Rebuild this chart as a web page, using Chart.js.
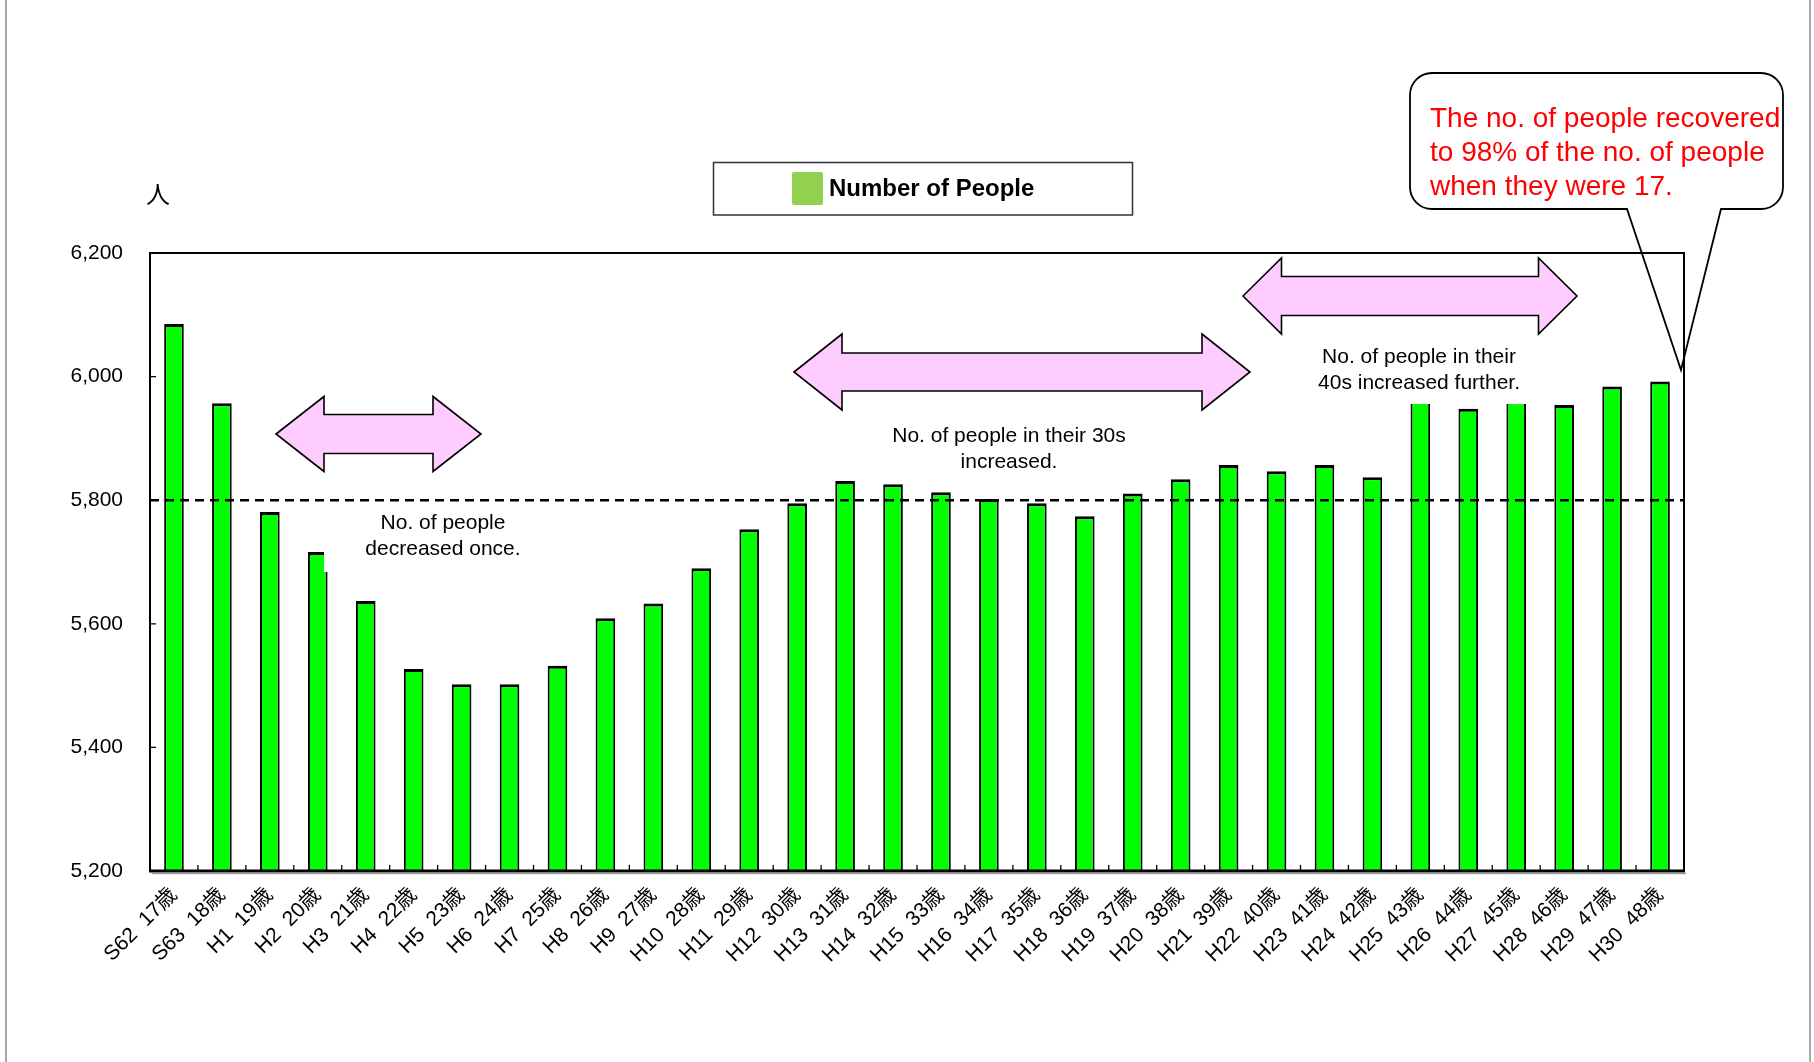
<!DOCTYPE html>
<html>
<head>
<meta charset="utf-8">
<title>Number of People</title>
<script src="https://cdn.jsdelivr.net/npm/chart.js@4.4.1/dist/chart.umd.min.js"></script>
<style>
  html, body { margin: 0; padding: 0; background: #fff; }
  #wrap { position: relative; width: 1814px; height: 1062px; }
  canvas { display: block; }
</style>
</head>
<body>
<div id="wrap"><canvas id="chart" width="1814" height="1062"></canvas></div>
<script>
// Survey year (era notation) and the cohort's age in that year
const eras = ['S62', 'S63', 'H1', 'H2', 'H3', 'H4', 'H5', 'H6', 'H7', 'H8', 'H9', 'H10',
  'H11', 'H12', 'H13', 'H14', 'H15', 'H16', 'H17', 'H18', 'H19', 'H20', 'H21', 'H22',
  'H23', 'H24', 'H25', 'H26', 'H27', 'H28', 'H29', 'H30'];
const ages = [17, 18, 19, 20, 21, 22, 23, 24, 25, 26, 27, 28, 29, 30, 31, 32,
  33, 34, 35, 36, 37, 38, 39, 40, 41, 42, 43, 44, 45, 46, 47, 48];

// Number of people in the cohort
const people = [6085, 5957, 5781, 5716, 5637, 5527, 5502, 5502, 5532, 5609, 5633, 5690,
  5753, 5795, 5831, 5826, 5813, 5802, 5795, 5774, 5811, 5834, 5857, 5847,
  5857, 5837, 5966, 5948, 5960, 5954, 5984, 5992];

// Value axis
const yMin = 5200;
const yMax = 6200;
const yStep = 200;
const referenceLevel = 5800;

const seriesName = 'Number of People';
const unitLabel = '人';
const calloutLines = ['The no. of people recovered', 'to 98% of the no. of people', 'when they were 17.'];

const categoryLabels = eras.map((e, i) => e + '  ' + ages[i] + '歳');

const LATIN = '"Liberation Sans", Arial, Helvetica, sans-serif';
const CJK = '"Liberation Sans", Arial, "Noto Sans CJK JP", sans-serif';

// Annotation shapes (pixel layout of the page)
const notes = [
  { lines: ['No. of people', 'decreased once.'], cx: 443, y: 523, cover: [324, 504, 562, 572] },
  { lines: ['No. of people in their 30s', 'increased.'], cx: 1009, y: 436 },
  { lines: ['No. of people in their', '40s increased further.'], cx: 1419, y: 357, cover: [1300, 338, 1545, 404] }
];
const arrows = [
  { x1: 276, x2: 481, yc: 434, head: 48, halfHead: 37.5, halfShaft: 19.5 },
  { x1: 794, x2: 1250, yc: 372, head: 48, halfHead: 38, halfShaft: 19 },
  { x1: 1243, x2: 1577, yc: 296, head: 38.5, halfHead: 38, halfShaft: 19.5 }
];

function doubleArrow(ctx, a) {
  const { x1, x2, yc, head, halfHead, halfShaft } = a;
  ctx.beginPath();
  ctx.moveTo(x1, yc);
  ctx.lineTo(x1 + head, yc - halfHead);
  ctx.lineTo(x1 + head, yc - halfShaft);
  ctx.lineTo(x2 - head, yc - halfShaft);
  ctx.lineTo(x2 - head, yc - halfHead);
  ctx.lineTo(x2, yc);
  ctx.lineTo(x2 - head, yc + halfHead);
  ctx.lineTo(x2 - head, yc + halfShaft);
  ctx.lineTo(x1 + head, yc + halfShaft);
  ctx.lineTo(x1 + head, yc + halfHead);
  ctx.closePath();
  ctx.fillStyle = '#FFCCFF';
  ctx.fill();
  ctx.lineWidth = 1.6;
  ctx.strokeStyle = '#000';
  ctx.lineJoin = 'miter';
  ctx.stroke();
}

const decor = {
  id: 'decor',
  beforeDraw(chart) {
    const ctx = chart.ctx;
    ctx.save();
    ctx.fillStyle = '#fff';
    ctx.fillRect(0, 0, chart.width, chart.height);
    ctx.restore();
  },
  afterDatasetsDraw(chart) {
    const ctx = chart.ctx;
    const { left, right, top, bottom } = chart.chartArea;
    const xs = chart.scales.x;
    const ys = chart.scales.y;
    ctx.save();

    // reference level
    const yRef = ys.getPixelForValue(referenceLevel);
    ctx.beginPath();
    ctx.setLineDash([9, 6]);
    ctx.lineWidth = 2.4;
    ctx.strokeStyle = '#000';
    ctx.moveTo(left, yRef);
    ctx.lineTo(right, yRef);
    ctx.stroke();
    ctx.setLineDash([]);

    // text boxes with their white backgrounds
    ctx.font = '21px ' + LATIN;
    ctx.fillStyle = '#000';
    ctx.textAlign = 'center';
    ctx.textBaseline = 'middle';
    notes.forEach(n => {
      if (n.cover) {
        ctx.fillStyle = '#fff';
        ctx.fillRect(n.cover[0], n.cover[1], n.cover[2] - n.cover[0], n.cover[3] - n.cover[1]);
      }
      ctx.fillStyle = '#000';
      n.lines.forEach((t, i) => ctx.fillText(t, n.cx, n.y + i * 26));
    });

    arrows.forEach(a => doubleArrow(ctx, a));

    // plot frame
    ctx.strokeStyle = '#000';
    ctx.lineWidth = 2;
    ctx.beginPath();
    ctx.moveTo(left, bottom);
    ctx.lineTo(left, top);
    ctx.lineTo(right, top);
    ctx.lineTo(right, bottom);
    ctx.stroke();
    ctx.lineWidth = 3;
    ctx.beginPath();
    ctx.moveTo(left - 1, bottom);
    ctx.lineTo(right + 1, bottom);
    ctx.stroke();
    ctx.strokeStyle = '#9a9a9a';
    ctx.lineWidth = 1.5;
    ctx.beginPath();
    ctx.moveTo(left + 2, bottom + 2.5);
    ctx.lineTo(right + 2, bottom + 2.5);
    ctx.stroke();

    // inward tick marks
    ctx.strokeStyle = '#000';
    ctx.lineWidth = 1.3;
    ctx.beginPath();
    for (let v = yMin + yStep; v < yMax; v += yStep) {
      const y = ys.getPixelForValue(v);
      ctx.moveTo(left, y);
      ctx.lineTo(left + 6, y);
    }
    const half = (xs.getPixelForValue(1) - xs.getPixelForValue(0)) / 2;
    for (let i = 1; i < eras.length; i++) {
      const x = xs.getPixelForValue(i) - half;
      ctx.moveTo(x, bottom);
      ctx.lineTo(x, bottom - 6);
    }
    ctx.stroke();

    // unit label
    ctx.fillStyle = '#000';
    ctx.font = '24px "Noto Sans CJK JP", sans-serif';
    ctx.textAlign = 'center';
    ctx.textBaseline = 'middle';
    ctx.fillText(unitLabel, 158, 194);

    // legend
    ctx.strokeStyle = '#333';
    ctx.lineWidth = 1.5;
    ctx.strokeRect(713.5, 162.5, 419, 52.5);
    ctx.fillStyle = '#92D050';
    ctx.beginPath();
    ctx.roundRect(792, 172, 31, 33, 2);
    ctx.fill();
    ctx.fillStyle = '#000';
    ctx.font = 'bold 24px ' + LATIN;
    ctx.textAlign = 'left';
    ctx.fillText(seriesName, 829, 189);

    // callout bubble
    const bx1 = 1410, by1 = 73, bx2 = 1783, by2 = 209, r = 22;
    const p1 = 1627, p2 = 1721, tipX = 1681, tipY = 370;
    ctx.beginPath();
    ctx.moveTo(bx1 + r, by1);
    ctx.lineTo(bx2 - r, by1);
    ctx.arcTo(bx2, by1, bx2, by1 + r, r);
    ctx.lineTo(bx2, by2 - r);
    ctx.arcTo(bx2, by2, bx2 - r, by2, r);
    ctx.lineTo(p2, by2);
    ctx.lineTo(tipX, tipY);
    ctx.lineTo(p1, by2);
    ctx.lineTo(bx1 + r, by2);
    ctx.arcTo(bx1, by2, bx1, by2 - r, r);
    ctx.lineTo(bx1, by1 + r);
    ctx.arcTo(bx1, by1, bx1 + r, by1, r);
    ctx.closePath();
    ctx.strokeStyle = '#000';
    ctx.lineWidth = 1.8;
    ctx.stroke();
    ctx.fillStyle = '#FF0000';
    ctx.font = '28px ' + LATIN;
    ctx.textAlign = 'left';
    ctx.textBaseline = 'middle';
    calloutLines.forEach((t, i) => ctx.fillText(t, 1430, 119 + i * 34));

    // page frame sides
    ctx.strokeStyle = '#8c8c8c';
    ctx.lineWidth = 1.5;
    ctx.beginPath();
    ctx.moveTo(6, 0); ctx.lineTo(6, chart.height);
    ctx.moveTo(1810, 0); ctx.lineTo(1810, chart.height);
    ctx.stroke();

    ctx.restore();
  }
};

new Chart(document.getElementById('chart'), {
  type: 'bar',
  data: {
    labels: categoryLabels,
    datasets: [{
      label: seriesName,
      data: people,
      backgroundColor: '#00FF00',
      borderColor: '#000',
      borderWidth: { top: 3, left: 2, right: 2, bottom: 0 },
      categoryPercentage: 1,
      barPercentage: 0.41
    }]
  },
  options: {
    responsive: false,
    animation: false,
    devicePixelRatio: 1,
    layout: { padding: { top: 253, right: 130, left: 0, bottom: 0 } },
    plugins: { legend: { display: false }, tooltip: { enabled: false } },
    scales: {
      x: {
        offset: true,
        grid: { display: false, drawTicks: false },
        border: { display: false },
        ticks: {
          autoSkip: false, maxRotation: 45, minRotation: 45,
          color: '#000', padding: 12,
          font: { family: CJK, size: 21 }
        },
        afterFit(s) { s.height = 191; }
      },
      y: {
        min: yMin, max: yMax,
        grid: { display: false, drawTicks: false },
        border: { display: false },
        ticks: {
          stepSize: yStep, color: '#000', padding: 27,
          font: { family: LATIN, size: 21 },
          callback: v => v.toLocaleString('en-US')
        },
        afterFit(s) { s.width = 150; }
      }
    }
  },
  plugins: [decor]
});
</script>
</body>
</html>
